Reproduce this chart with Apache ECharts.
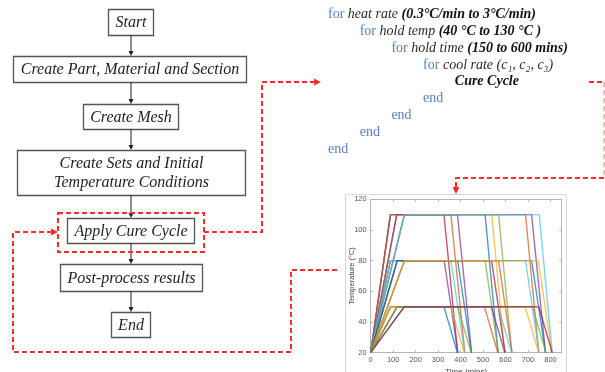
<!DOCTYPE html>
<html><head><meta charset="utf-8">
<script src="https://cdn.jsdelivr.net/npm/echarts@6/dist/echarts.min.js"></script>
<style>html,body{margin:0;padding:0;background:#fff}#c{width:605px;height:372px}</style>
</head><body><div id="c"></div>
<script>
// ---- data ----
const flowSteps = ['Start', 'Create Part, Material and Section', 'Create Mesh',
  'Create Sets and Initial\nTemperature Conditions', 'Apply Cure Cycle', 'Post-process results', 'End'];
const codeLines = [
  {indent: 0, kw: 'for', it: 'heat rate', bi: '(0.3°C/min to 3°C/min)'},
  {indent: 1, kw: 'for', it: 'hold temp', bi: '(40 °C to 130 °C )'},
  {indent: 2, kw: 'for', it: 'hold time', bi: '(150 to 600 mins)'},
  {indent: 3, kw: 'for', it: 'cool rate (c₁, c₂, c₃)', bi: ''},
  {indent: 4, kw: '', it: '', bi: 'Cure Cycle'},
  {indent: 3, kw: 'end', it: '', bi: ''},
  {indent: 2, kw: 'end', it: '', bi: ''},
  {indent: 1, kw: 'end', it: '', bi: ''},
  {indent: 0, kw: 'end', it: '', bi: ''}
];
const xTicks = [0, 100, 200, 300, 400, 500, 600, 700, 800];
const yTicks = [20, 40, 60, 80, 100, 120];
const palette = ['#0072BD', '#D95319', '#EDB120', '#7E2F8E', '#77AC30', '#4DBEEE', '#A2142F'];
// one entry per cure-cycle curve: hold temperature, end of ramp, end of hold, end of cooling (mins)
const curveTemp    = [110,110,110,110,110,110,110,110,110, 80,80,80,80,80,80,80,80,80, 50,50,50,50,50,50,50,50,50];
const curveRamp    = [88,88,88,116,116,116,150,150,150, 88,88,88,118,118,118,150,150,150, 88,88,88,118,118,118,150,150,150];
const curveHoldEnd = [326,509,689,357,539,716,386,569,750, 327,509,689,357,538,716,387,569,746, 326,506,687,357,537,720,387,567,748];
const curveCoolEnd = [387,567,748,419,596,778,449,628,808, 388,568,749,418,598,778,448,629,806, 386,566,748,417,597,780,447,627,808];
const curveColor   = [7,1,2,2,3,4,4,5,6, 4,5,6,6,7,1,1,2,3, 1,2,3,3,4,5,5,6,7];

// ---- layout ----
const boxes = [[108,9,45,26],[13,56,233,26],[83,104,95,25],[17,150,228,45],[67,218,127,25],[60,264,142,27],[111,312,39,25]];
const CX = 131;
const RED = '#ff2a2a';
const g = [];

// chart frame
g.push({type:'rect', shape:{x:345.5,y:194.5,width:221,height:190}, style:{fill:'#fff', stroke:'#d8d8d8', lineWidth:1}, z:-10, silent:true});

boxes.forEach((b, i) => {
  g.push({type:'rect', shape:{x:b[0]+0.5,y:b[1]+0.5,width:b[2],height:b[3]}, style:{fill:'#fff', stroke:'#555', lineWidth:1.3}, z:5});
  g.push({type:'text', z:6, style:{x:b[0]+b[2]/2+0.5, y:b[1]+b[3]/2+1, text:flowSteps[i], align:'center', verticalAlign:'middle',
    font:'italic 16px "Liberation Serif"', fill:'#1e1e1e', lineHeight:18.5}});
  if (i < boxes.length - 1) {
    const y1 = b[1] + b[3], y2 = boxes[i+1][1];
    g.push({type:'line', z:7, shape:{x1:CX,y1:y1,x2:CX,y2:y2-4}, style:{stroke:'#222', lineWidth:1}});
    g.push({type:'polygon', z:7, shape:{points:[[CX-2.5,y2-5],[CX+2.5,y2-5],[CX,y2]]}, style:{fill:'#222'}});
  }
});

// red dashed connectors
const dash = {stroke: RED, lineWidth: 2, lineDash: [5, 3], fill: null};
g.push({type:'rect', z:8, shape:{x:58,y:213,width:146,height:39}, style:Object.assign({}, dash)});
g.push({type:'polyline', z:8, shape:{points:[[204,232],[262,232],[262,82],[314,82]]}, style:Object.assign({}, dash)});
g.push({type:'polygon', z:8, shape:{points:[[314,78.5],[314,85.5],[321,82]]}, style:{fill:RED}});
g.push({type:'polyline', z:8, shape:{points:[[337,270],[291,270],[291,352],[13,352],[13,232],[51,232]]}, style:Object.assign({}, dash)});
g.push({type:'polygon', z:8, shape:{points:[[51,228.5],[51,235.5],[58,232]]}, style:{fill:RED}});
g.push({type:'polyline', z:8, shape:{points:[[589,82],[604,82]]}, style:Object.assign({}, dash)});
g.push({type:'polyline', z:8, shape:{points:[[604,82],[604,178]]}, style:{stroke:'#e07a7a', lineWidth:1, lineDash:[5,3], fill:null}});
g.push({type:'polyline', z:8, shape:{points:[[604,178],[456,178],[456,187]]}, style:Object.assign({}, dash)});
g.push({type:'polygon', z:8, shape:{points:[[452.5,187],[459.5,187],[456,194]]}, style:{fill:RED}});

// pseudo code
const FS = 14;
const rich = {
  k: {fontFamily:'Liberation Serif', fontSize:FS, fill:'#5a80c0'},
  i: {fontFamily:'Liberation Serif', fontSize:FS, fontStyle:'italic', fill:'#2a2a2a'},
  b: {fontFamily:'Liberation Serif', fontSize:FS, fontStyle:'italic', fontWeight:'bold', fill:'#111'}
};
codeLines.forEach((l, j) => {
  const parts = [];
  if (l.kw) parts.push('{k|' + l.kw + '}');
  if (l.it) parts.push('{i|' + l.it + '}');
  if (l.bi) parts.push('{b|' + l.bi + '}');
  g.push({type:'text', z:6, style:{x: 328 + l.indent * 31.7, y: 14.5 + j * 16.8, text: parts.join('{i| }'), rich: rich,
    verticalAlign:'middle', align:'left', font: FS + 'px "Liberation Serif"'}});
});

const series = curveTemp.map((T, i) => ({
  type:'line', silent:true, animation:false, symbol:'none', z:2,
  data:[[0,20],[curveRamp[i],T],[curveHoldEnd[i],T],[curveCoolEnd[i],20]],
  lineStyle:{width:1.4, color:palette[curveColor[i]-1], opacity:0.7}
}));

const axCol = '#b5b5b5';
const lab = {fontSize:7.5, color:'#555', fontFamily:'Liberation Sans'};
const chart = echarts.init(document.getElementById('c'));
chart.setOption({
  animation:false,
  grid:{left:370.7, top:199.3, width:191, height:153.4, show:false, containLabel:false, outerBoundsMode:'none'},
  xAxis:[
    {type:'value', min:0, max:850, interval:100, position:'bottom',
     axisLine:{show:true, onZero:false, lineStyle:{color:axCol}}, axisTick:{show:true, inside:true, length:2.5, lineStyle:{color:axCol}},
     axisLabel:Object.assign({margin:3, formatter: v => xTicks.indexOf(v) >= 0 ? String(v) : ''}, lab), splitLine:{show:false},
     name:'Time (mins)', nameLocation:'middle', nameGap:15, nameMoveOverlap:false, nameTextStyle:{fontSize:8, color:'#444', fontFamily:'Liberation Sans'}},
    {type:'value', min:0, max:850, interval:100, position:'top',
     axisLine:{show:true, onZero:false, lineStyle:{color:axCol}}, axisTick:{show:true, inside:true, length:2.5, lineStyle:{color:axCol}},
     axisLabel:{show:false}, splitLine:{show:false}}
  ],
  yAxis:[
    {type:'value', min:20, max:120, interval:20, position:'left',
     axisLine:{show:true, onZero:false, lineStyle:{color:axCol}}, axisTick:{show:true, inside:true, length:2.5, lineStyle:{color:axCol}},
     axisLabel:Object.assign({margin:4, formatter: v => yTicks.indexOf(v) >= 0 ? String(v) : ''}, lab), splitLine:{show:false},
     name:'Temperature (°C)', nameLocation:'middle', nameGap:15, nameMoveOverlap:false, nameTextStyle:{fontSize:7.5, color:'#444', fontFamily:'Liberation Sans'}},
    {type:'value', min:20, max:120, interval:20, position:'right',
     axisLine:{show:true, onZero:false, lineStyle:{color:axCol}}, axisTick:{show:true, inside:true, length:2.5, lineStyle:{color:axCol}},
     axisLabel:{show:false}, splitLine:{show:false}}
  ],
  graphic:{elements:g},
  series:series
});
</script></body></html>
